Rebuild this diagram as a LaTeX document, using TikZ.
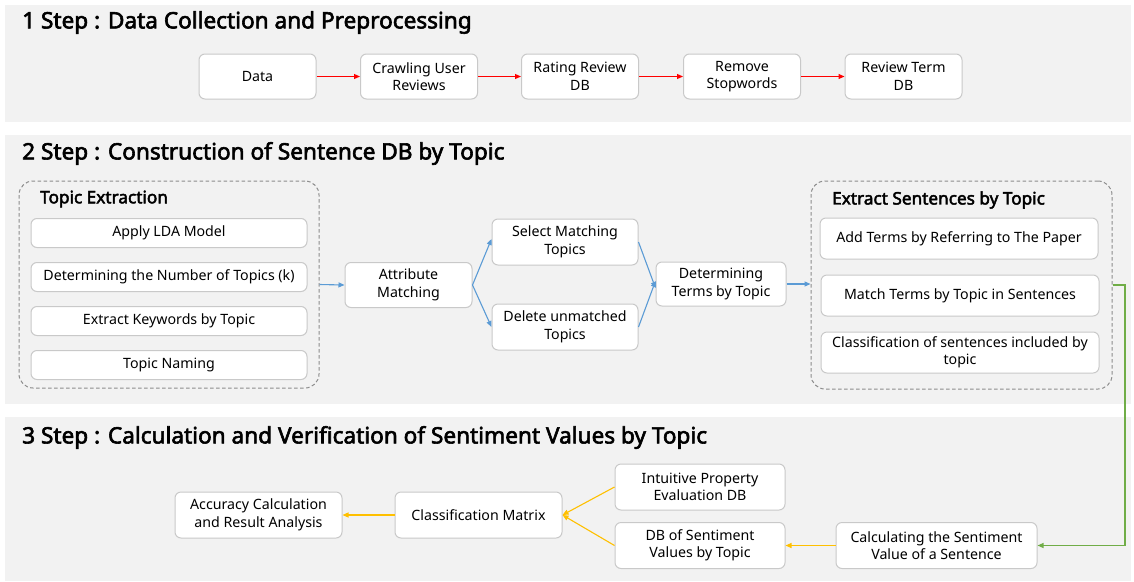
\documentclass[tikz,border=0pt]{standalone}
\usepackage{fontspec}
\setmainfont{Noto Sans}[BoldFont={Noto Sans}, BoldFeatures={FakeBold=2.6}]
\usetikzlibrary{arrows.meta}
\definecolor{panelbg}{HTML}{F2F2F2}
\definecolor{boxline}{HTML}{C9C9C9}
\definecolor{dashline}{HTML}{8C8C8C}
\definecolor{redline}{HTML}{FF0000}
\definecolor{blueline}{HTML}{5B9BD5}
\definecolor{yellowline}{HTML}{FFC000}
\definecolor{greenline}{HTML}{70AD47}
\tikzset{
  panel/.style={fill=panelbg, draw=none},
  title/.style={anchor=west, inner sep=0pt, font=\fontsize{22.6}{26}\selectfont\bfseries},
  grouptitle/.style={anchor=west, inner sep=0pt, font=\fontsize{17.2}{20}\selectfont\bfseries},
  stepbox/.style={draw=boxline, fill=white, line width=1pt, rounded corners=6pt,
    align=center, inner sep=0pt, font=\fontsize{14.2}{17.5}\selectfont},
  groupbox/.style={draw=dashline, dashed, dash pattern=on 3.5pt off 2.5pt, line width=1pt,
    rounded corners=14pt, inner sep=0pt},
  tip/.style={-{Triangle[length=6pt,width=5pt]}},
  redarrow/.style={tip, draw=redline, line width=1.1pt},
  bluearrow/.style={tip, draw=blueline, line width=1.1pt},
  yellowarrow/.style={tip, draw=yellowline, line width=1.1pt},
  greenarrow/.style={tip, draw=greenline, line width=1.1pt},
}
\begin{document}
\begin{tikzpicture}[x=1pt,y=-1pt]
\useasboundingbox (0,0) rectangle (1134,581);
\fill[white] (0,0) rectangle (1134,581);

% panels
\fill[panel] (5,5) rectangle (1131,122);
\fill[panel] (5,135) rectangle (1131,404);
\fill[panel] (5,417) rectangle (1131,581);

% ---------- Step 1 ----------
\node[title] (t1) at (22,22.5) {1 Step : Data Collection and Preprocessing};
\node[stepbox, minimum width=117, minimum height=45] (data) at (257.5,76.5) {Data};
\node[stepbox, minimum width=117, minimum height=45] (crawl) at (419,76.5) {Crawling User\\Reviews};
\node[stepbox, minimum width=117, minimum height=45] (rating) at (580,76.5) {Rating Review\\DB};
\node[stepbox, minimum width=117, minimum height=45] (stop) at (742,76.5) {Remove\\Stopwords};
\node[stepbox, minimum width=117, minimum height=45] (term) at (903.5,76.5) {Review Term\\DB};
\draw[redarrow] (data) -- (crawl);
\draw[redarrow] (crawl) -- (rating);
\draw[redarrow] (rating) -- (stop);
\draw[redarrow] (stop) -- (term);

% ---------- Step 2 ----------
\node[title] (t2) at (22,153.5) {2 Step : Construction of Sentence DB by Topic};

\node[groupbox, minimum width=300, minimum height=207] (topic) at (169,284.5) {};
\node[grouptitle] (topictitle) at (40,199) {Topic Extraction};
\node[stepbox, minimum width=276, minimum height=29] (lda) at (169,233) {Apply LDA Model};
\node[stepbox, minimum width=276, minimum height=29] (numk) at (169,277) {Determining the Number of Topics (k)};
\node[stepbox, minimum width=276, minimum height=29] (kw) at (169,321) {Extract Keywords by Topic};
\node[stepbox, minimum width=276, minimum height=29] (naming) at (169,365) {Topic Naming};

\node[stepbox, minimum width=127, minimum height=45] (attr) at (408.5,285) {Attribute\\Matching};
\node[stepbox, minimum width=146, minimum height=46] (sel) at (565,242) {Select Matching\\Topics};
\node[stepbox, minimum width=146, minimum height=46] (del) at (565,327) {Delete unmatched\\Topics};
\node[stepbox, minimum width=130, minimum height=44] (terms) at (721,284) {Determining\\Terms by Topic};

\node[groupbox, minimum width=301, minimum height=208] (esent) at (961.5,285) {};
\node[grouptitle] (esenttitle) at (832,200) {Extract Sentences by Topic};
\node[stepbox, minimum width=278, minimum height=41] (addt) at (959,238.5) {Add Terms by Referring to The Paper};
\node[stepbox, minimum width=278, minimum height=41] (matcht) at (960,295.5) {Match Terms by Topic in Sentences};
\node[stepbox, minimum width=278, minimum height=41] (classs) at (960,352.5) {Classification of sentences included by\\topic};

\draw[bluearrow] (topic.east) -- (attr.west);
\draw[bluearrow] (attr.east) -- ([yshift=3pt]sel.west);
\draw[bluearrow] (attr.east) -- (del.west);
\draw[bluearrow] (sel.east) -- ([yshift=-4pt]terms.west);
\draw[bluearrow] (del.east) -- ([yshift=3pt]terms.west);
\draw[bluearrow] (terms.east) -- (terms.east -| esent.west);

% ---------- Step 3 ----------
\node[title] (t3) at (22,437.5) {3 Step : Calculation and Verification of Sentiment Values by Topic};
\node[stepbox, minimum width=167, minimum height=46] (acc) at (258.5,515) {Accuracy Calculation\\and Result Analysis};
\node[stepbox, minimum width=167, minimum height=46] (cmat) at (478.5,515) {Classification Matrix};
\node[stepbox, minimum width=170, minimum height=46] (intu) at (700,487) {Intuitive Property\\Evaluation DB};
\node[stepbox, minimum width=170, minimum height=46] (dbsent) at (700,545.5) {DB of Sentiment\\Values by Topic};
\node[stepbox, minimum width=201, minimum height=46] (calc) at (936.5,545.5) {Calculating the Sentiment\\Value of a Sentence};

\coordinate (gcorner) at (1125,285);
\draw[greenarrow] (esent.east) -- (gcorner) |- (calc.east);
\draw[yellowarrow] (calc.west) -- (dbsent.east);
\draw[yellowarrow] (intu.west) -- (cmat.east);
\draw[yellowarrow] (dbsent.west) -- (cmat.east);
\draw[yellowarrow] (cmat.west) -- (acc.east);
\end{tikzpicture}
\end{document}
